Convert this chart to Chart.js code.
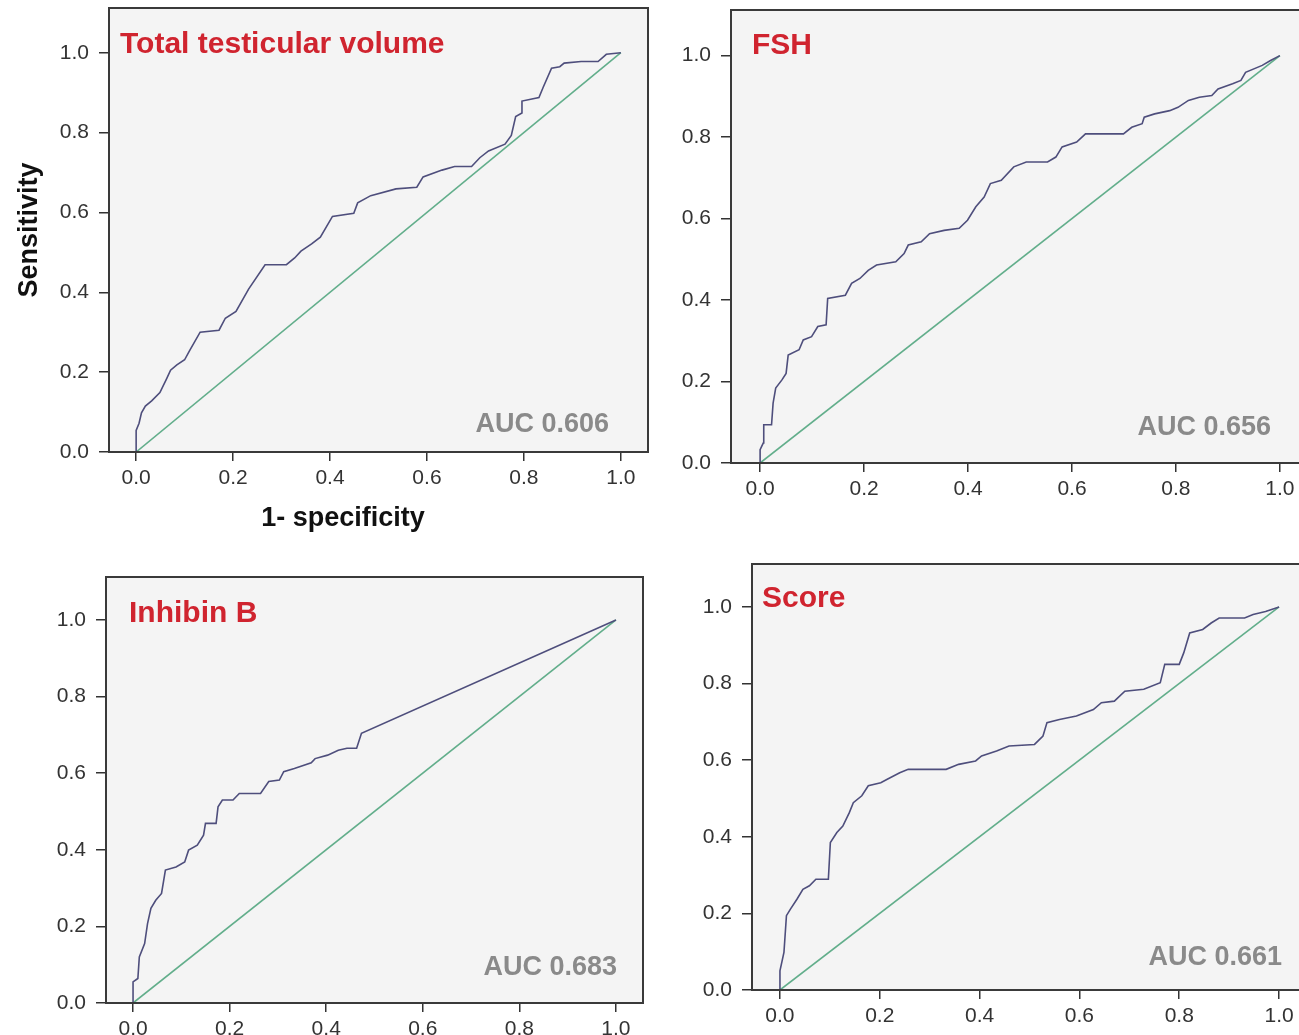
<!DOCTYPE html>
<html>
<head>
<meta charset="utf-8">
<title>ROC curves</title>
<script src="https://cdn.jsdelivr.net/npm/chart.js@4.4.1/dist/chart.umd.min.js"></script>
<style>
  html, body { margin: 0; padding: 0; background: #fff; width: 1299px; height: 1035px; overflow: hidden; position: relative; }
  canvas { position: absolute; }
</style>
</head>
<body>
<canvas id="roc0"></canvas>
<canvas id="roc1"></canvas>
<canvas id="roc2"></canvas>
<canvas id="roc3"></canvas>
<script>
// axis ticks
const xTicks = [0, 0.2, 0.4, 0.6, 0.8, 1.0];
const yTicks = [0, 0.2, 0.4, 0.6, 0.8, 1.0];

const panelTitles = ['Total testicular volume', 'FSH', 'Inhibin B', 'Score'];
const aucValues = [0.606, 0.656, 0.683, 0.661];

// ROC points: 1 - specificity / sensitivity
const tvFpr = [0, 0, 0.006, 0.011, 0.019, 0.032, 0.049, 0.063, 0.071, 0.084, 0.100, 0.110, 0.132, 0.171, 0.184, 0.206, 0.232, 0.266, 0.310, 0.327, 0.340, 0.362, 0.380, 0.405, 0.449, 0.457, 0.484, 0.536, 0.579, 0.592, 0.631, 0.657, 0.692, 0.709, 0.727, 0.761, 0.774, 0.783, 0.796, 0.796, 0.831, 0.840, 0.857, 0.874, 0.883, 0.918, 0.953, 0.970, 1.0];
const tvTpr = [0, 0.054, 0.072, 0.098, 0.115, 0.128, 0.149, 0.184, 0.205, 0.218, 0.231, 0.253, 0.300, 0.305, 0.335, 0.352, 0.408, 0.469, 0.469, 0.486, 0.503, 0.521, 0.538, 0.590, 0.598, 0.624, 0.642, 0.659, 0.663, 0.689, 0.706, 0.715, 0.715, 0.737, 0.754, 0.771, 0.793, 0.840, 0.849, 0.879, 0.888, 0.914, 0.961, 0.965, 0.974, 0.978, 0.978, 0.996, 1.0];

const fshFpr = [0, 0, 0.006, 0.007, 0.022, 0.025, 0.030, 0.042, 0.050, 0.054, 0.075, 0.083, 0.099, 0.111, 0.127, 0.130, 0.164, 0.176, 0.192, 0.208, 0.224, 0.261, 0.277, 0.285, 0.310, 0.326, 0.354, 0.383, 0.399, 0.415, 0.431, 0.443, 0.464, 0.488, 0.512, 0.553, 0.569, 0.581, 0.609, 0.626, 0.699, 0.715, 0.735, 0.739, 0.759, 0.788, 0.804, 0.824, 0.845, 0.869, 0.881, 0.909, 0.925, 0.934, 0.966, 0.982, 1.0];
const fshTpr = [0, 0.033, 0.049, 0.094, 0.094, 0.147, 0.184, 0.204, 0.220, 0.265, 0.278, 0.302, 0.310, 0.335, 0.339, 0.404, 0.412, 0.441, 0.453, 0.473, 0.486, 0.494, 0.514, 0.535, 0.543, 0.563, 0.571, 0.576, 0.596, 0.629, 0.653, 0.686, 0.694, 0.727, 0.739, 0.739, 0.751, 0.776, 0.788, 0.808, 0.808, 0.824, 0.833, 0.849, 0.857, 0.865, 0.873, 0.890, 0.898, 0.902, 0.918, 0.931, 0.939, 0.959, 0.976, 0.988, 1.0];

const inhFpr = [0, 0, 0.010, 0.013, 0.024, 0.030, 0.037, 0.047, 0.059, 0.067, 0.089, 0.107, 0.115, 0.133, 0.146, 0.150, 0.172, 0.176, 0.185, 0.207, 0.220, 0.264, 0.281, 0.303, 0.312, 0.334, 0.369, 0.377, 0.403, 0.425, 0.443, 0.463, 0.473, 1.0];
const inhTpr = [0, 0.055, 0.064, 0.120, 0.155, 0.207, 0.247, 0.268, 0.286, 0.347, 0.355, 0.368, 0.399, 0.412, 0.438, 0.469, 0.469, 0.512, 0.530, 0.530, 0.547, 0.547, 0.578, 0.582, 0.604, 0.612, 0.627, 0.638, 0.647, 0.660, 0.665, 0.665, 0.704, 1.0];

const scoreFpr = [0, 0, 0.008, 0.013, 0.021, 0.034, 0.046, 0.059, 0.072, 0.097, 0.101, 0.114, 0.126, 0.139, 0.147, 0.164, 0.177, 0.202, 0.215, 0.240, 0.257, 0.333, 0.358, 0.392, 0.404, 0.434, 0.459, 0.510, 0.527, 0.535, 0.560, 0.594, 0.628, 0.644, 0.670, 0.691, 0.729, 0.762, 0.771, 0.800, 0.809, 0.821, 0.847, 0.864, 0.880, 0.931, 0.948, 0.973, 1.0];
const scoreTpr = [0, 0.050, 0.098, 0.194, 0.211, 0.237, 0.263, 0.272, 0.289, 0.289, 0.385, 0.411, 0.428, 0.463, 0.489, 0.507, 0.533, 0.541, 0.550, 0.567, 0.576, 0.576, 0.589, 0.598, 0.611, 0.624, 0.637, 0.641, 0.663, 0.698, 0.706, 0.715, 0.732, 0.750, 0.754, 0.780, 0.785, 0.802, 0.850, 0.850, 0.880, 0.932, 0.941, 0.958, 0.971, 0.971, 0.980, 0.988, 1.0];

// chance line
const refX = [0, 1];
const refY = [0, 1];

const curves = [[tvFpr, tvTpr], [fshFpr, fshTpr], [inhFpr, inhTpr], [scoreFpr, scoreTpr]];

// plot frames in page pixels, and where the labels sit relative to them
const panels = [
  { left: 109, top: 8, w: 539, h: 444, title: [11, 45], auc: [-39, -20], axisTitles: true },
  { left: 731, top: 10, w: 578, h: 453, title: [21, 44], auc: [-38, -28] },
  { left: 106, top: 577, w: 537, h: 426, title: [23, 45], auc: [-26, -28] },
  { left: 752, top: 564, w: 555, h: 426, title: [10, 43], auc: [-25, -25] }
];

const AXIS_W = 100, AXIS_H = 90, PAD = 3;
const FONT = "'Liberation Sans', Arial, Helvetica, sans-serif";

const frameAndText = {
  id: 'frameAndText',
  beforeDraw(chart) {
    const { ctx, chartArea: a } = chart;
    ctx.save();
    ctx.fillStyle = '#f4f4f4';
    ctx.fillRect(a.left, a.top, a.right - a.left, a.bottom - a.top);
    ctx.restore();
  },
  afterDraw(chart, args, opts) {
    const { ctx, chartArea: a } = chart;
    ctx.save();
    ctx.strokeStyle = '#3a3a3a';
    ctx.lineWidth = 2;
    ctx.strokeRect(a.left, a.top, a.right - a.left, a.bottom - a.top);

    ctx.textBaseline = 'alphabetic';
    ctx.font = 'bold 30px ' + FONT;
    ctx.fillStyle = '#d0242f';
    ctx.textAlign = 'left';
    ctx.fillText(opts.title, a.left + opts.titleAt[0], a.top + opts.titleAt[1]);

    ctx.font = 'bold 27px ' + FONT;
    ctx.fillStyle = '#8a8a8a';
    ctx.textAlign = 'right';
    ctx.fillText('AUC ' + opts.auc.toFixed(3), a.right + opts.aucAt[0], a.bottom + opts.aucAt[1]);

    if (opts.axisTitles) {
      ctx.fillStyle = '#111';
      ctx.font = 'bold 27px ' + FONT;
      ctx.textAlign = 'center';
      ctx.textBaseline = 'middle';
      ctx.fillText('1- specificity', a.left + 234, a.bottom + 67);
      ctx.translate(a.left - 79, (a.top + a.bottom) / 2);
      ctx.rotate(-Math.PI / 2);
      ctx.fillText('Sensitivity', 0, 0);
    }
    ctx.restore();
  }
};

panels.forEach((p, i) => {
  const canvas = document.getElementById('roc' + i);
  const cw = AXIS_W + p.w + PAD;
  const ch = PAD + p.h + AXIS_H;
  canvas.width = cw;
  canvas.height = ch;
  canvas.style.width = cw + 'px';
  canvas.style.height = ch + 'px';
  canvas.style.left = (p.left - AXIS_W) + 'px';
  canvas.style.top = (p.top - PAD) + 'px';

  const [fpr, tpr] = curves[i];

  new Chart(canvas.getContext('2d'), {
    type: 'scatter',
    data: {
      datasets: [
        {
          data: fpr.map((x, k) => ({ x: x, y: tpr[k] })),
          showLine: true,
          borderColor: '#4e4e7c',
          borderWidth: 1.6,
          pointRadius: 0,
          tension: 0
        },
        {
          data: refX.map((x, k) => ({ x: x, y: refY[k] })),
          showLine: true,
          borderColor: '#62ae8b',
          borderWidth: 1.6,
          pointRadius: 0
        }
      ]
    },
    options: {
      responsive: false,
      maintainAspectRatio: false,
      animation: false,
      devicePixelRatio: 1,
      layout: { padding: { top: PAD, right: PAD, left: 0, bottom: 0 } },
      plugins: {
        legend: { display: false },
        tooltip: { enabled: false },
        frameAndText: {
          title: panelTitles[i],
          auc: aucValues[i],
          titleAt: p.title,
          aucAt: p.auc,
          axisTitles: !!p.axisTitles
        }
      },
      scales: {
        x: {
          type: 'linear',
          min: -0.056,
          max: 1.056,
          afterBuildTicks: s => { s.ticks = xTicks.map(v => ({ value: v })); },
          afterFit: s => { s.height = AXIS_H; s.paddingLeft = 0; s.paddingRight = 0; },
          grid: { drawOnChartArea: false, drawTicks: true, tickLength: 9, color: '#333', lineWidth: 1.5 },
          border: { display: false },
          ticks: {
            padding: 5,
            color: '#333',
            font: { family: FONT, size: 21 },
            maxRotation: 0,
            callback: v => v.toFixed(1)
          }
        },
        y: {
          type: 'linear',
          min: 0,
          max: 1.112,
          afterBuildTicks: s => { s.ticks = yTicks.map(v => ({ value: v })); },
          afterFit: s => { s.width = AXIS_W; s.paddingTop = 0; s.paddingBottom = 0; },
          grid: { drawOnChartArea: false, drawTicks: true, tickLength: 10, color: '#333', lineWidth: 1.5 },
          border: { display: false },
          ticks: {
            padding: 10,
            color: '#333',
            font: { family: FONT, size: 21 },
            callback: v => v.toFixed(1)
          }
        }
      }
    },
    plugins: [frameAndText]
  });
});
</script>
</body>
</html>
